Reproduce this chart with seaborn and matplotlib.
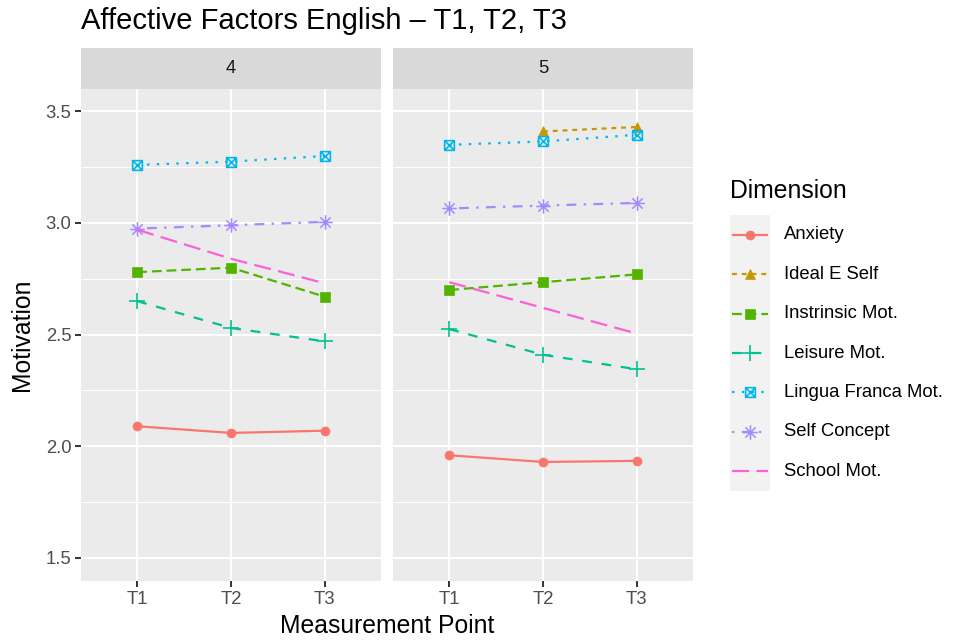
import numpy as np
import pandas as pd
import matplotlib
matplotlib.use("Agg")
import matplotlib.pyplot as plt
from matplotlib.path import Path
import seaborn as sns

# values
dimensions = ["Anxiety", "Ideal E Self", "Instrinsic Mot.", "Leisure Mot.",
              "Lingua Franca Mot.", "Self Concept", "School Mot."]
time_points = ["T1", "T2", "T3"]
grades = ["4", "5"]

grade4 = {
    "Anxiety":            [2.09, 2.06, 2.07],
    "Instrinsic Mot.":    [2.78, 2.80, 2.67],
    "Leisure Mot.":       [2.65, 2.53, 2.47],
    "Lingua Franca Mot.": [3.26, 3.275, 3.30],
    "Self Concept":       [2.975, 2.99, 3.005],
    "School Mot.":        [2.97, 2.84, 2.73],
}
grade5 = {
    "Anxiety":            [1.96, 1.93, 1.935],
    "Ideal E Self":       [np.nan, 3.41, 3.43],
    "Instrinsic Mot.":    [2.70, 2.735, 2.77],
    "Leisure Mot.":       [2.525, 2.41, 2.345],
    "Lingua Franca Mot.": [3.35, 3.365, 3.395],
    "Self Concept":       [3.065, 3.078, 3.09],
    "School Mot.":        [2.735, 2.62, 2.505],
}

rows = []
for g, block in zip(grades, [grade4, grade5]):
    for dim, vals in block.items():
        for t, v in zip(time_points, vals):
            if not np.isnan(v):
                rows.append({"grade": g, "time": t, "dim": dim, "value": v})
df = pd.DataFrame(rows)
df["tpos"] = df["time"].map({t: i for i, t in enumerate(time_points)})

colors = ["#F8766D", "#C49A00", "#53B400", "#00C094", "#00B6EB", "#A58AFF", "#FB61D7"]
palette = dict(zip(dimensions, colors))
dash_list = ["", (2.2, 2.2), (4.4, 2.2), (4.4, 4.4), (1.1, 3.3), (1.1, 3.3, 4.4, 3.3), (7.7, 3.3)]
dash_map = dict(zip(dimensions, dash_list))

# ggplot-like point shapes as paths
plus_path = Path([(-1, 0), (1, 0), (0, -1), (0, 1)],
                 [Path.MOVETO, Path.LINETO, Path.MOVETO, Path.LINETO])
d = 0.707
star_path = Path([(-1, 0), (1, 0), (0, -1), (0, 1), (-d, -d), (d, d), (-d, d), (d, -d)],
                 [Path.MOVETO, Path.LINETO] * 4)
sqx_path = Path([(-1, -1), (1, -1), (1, 1), (-1, 1), (-1, -1),
                 (-1, -1), (1, 1), (-1, 1), (1, -1)],
                [Path.MOVETO, Path.LINETO, Path.LINETO, Path.LINETO, Path.LINETO,
                 Path.MOVETO, Path.LINETO, Path.MOVETO, Path.LINETO])
marker_map = {"Anxiety": "o", "Ideal E Self": "^", "Instrinsic Mot.": "s",
              "Leisure Mot.": plus_path, "Lingua Franca Mot.": sqx_path,
              "Self Concept": star_path}
marker_size = {"Anxiety": 6.5, "Ideal E Self": 7.0, "Instrinsic Mot.": 6.5,
               "Leisure Mot.": 11.0, "Lingua Franca Mot.": 7.0, "Self Concept": 10.5}
marker_ew = {"Anxiety": 0.5, "Ideal E Self": 0.5, "Instrinsic Mot.": 0.5,
             "Leisure Mot.": 1.2, "Lingua Franca Mot.": 1.2, "Self Concept": 1.1}

sns.set_theme(style="darkgrid")
plt.rcParams["font.family"] = ["Liberation Sans", "DejaVu Sans"]

fig = plt.figure(figsize=(9.65, 6.41), dpi=100)
W, H = 965, 641


def box(x0, y0, x1, y1):
    return [x0 / W, 1 - y1 / H, (x1 - x0) / W, (y1 - y0) / H]


panel_x = [(81, 381), (393, 693)]
lw = 1.6
marked = [d_ for d_ in dimensions if d_ in marker_map]

for i, g in enumerate(grades):
    x0, x1 = panel_x[i]
    ax = fig.add_axes(box(x0, 89, x1, 581))
    sub = df[df["grade"] == g]
    sub_m = sub[sub["dim"].isin(marked)]
    sub_s = sub[sub["dim"] == "School Mot."]
    sns.lineplot(data=sub_m, x="tpos", y="value", hue="dim", style="dim",
                 hue_order=[d_ for d_ in marked if d_ in set(sub_m["dim"])],
                 palette=palette, dashes=dash_map, markers=marker_map,
                 linewidth=lw, markersize=6, legend=False, ax=ax)
    sns.lineplot(data=sub_s, x="tpos", y="value", color=palette["School Mot."],
                 linewidth=lw, dashes=False, legend=False, ax=ax)
    ax.lines[-1].set_dashes(dash_map["School Mot."])

    for ln in ax.lines:
        c = ln.get_color()
        ln.set_markeredgecolor(c)
        ln.set_solid_capstyle("butt")
        ln.set_dash_capstyle("butt")
        for dim, col in palette.items():
            if matplotlib.colors.same_color(c, col) and dim in marker_map:
                ln.set_markersize(marker_size[dim])
                ln.set_markeredgewidth(marker_ew[dim])
                if dim == "Lingua Franca Mot.":
                    ln.set_markerfacecolor("none")

    ax.set_facecolor("#EBEBEB")
    ax.set_xlim(-0.6, 2.6)
    ax.set_ylim(1.397, 3.6)
    ax.set_xticks(range(3))
    ax.set_xticklabels(time_points)
    ax.set_yticks([1.5, 2.0, 2.5, 3.0, 3.5])
    ax.set_yticks([1.75, 2.25, 2.75, 3.25], minor=True)
    ax.grid(True, which="major", color="white", linewidth=1.5)
    ax.grid(True, which="minor", axis="y", color="white", linewidth=0.75)
    ax.grid(False, which="minor", axis="x")
    ax.set_axisbelow(True)
    for s in ax.spines.values():
        s.set_visible(False)
    ax.tick_params(axis="both", which="major", length=4, width=1.4, color="#333333",
                   labelsize=13.3, labelcolor="#4D4D4D", pad=3, bottom=True, left=(i == 0))
    ax.tick_params(axis="both", which="minor", length=0)
    ax.set_xlabel("")
    ax.set_ylabel("")
    if i == 1:
        ax.set_yticklabels([])

    # facet strip
    sax = fig.add_axes(box(x0, 48, x1, 89))
    sax.set_facecolor("#D9D9D9")
    sax.set_xticks([])
    sax.set_yticks([])
    for s in sax.spines.values():
        s.set_visible(False)
    sax.text(0.5, 0.5, g, ha="center", va="center", fontsize=13.3, color="#1A1A1A",
             transform=sax.transAxes)

fig.text(81 / W, 1 - 21 / H, "Affective Factors English \u2013 T1, T2, T3",
         fontsize=21, ha="left", va="center", color="black")
fig.text(387 / W, 1 - 626 / H, "Measurement Point", fontsize=17.8, ha="center",
         va="center", color="black")
fig.text(22 / W, 1 - 335 / H, "Motivation", fontsize=17.8, ha="center",
         va="center", rotation=90, color="black")

# legend
lax = fig.add_axes(box(730, 215, 770, 491))
lax.set_facecolor("#F2F2F2")
lax.set_xlim(0, 1)
lax.set_ylim(len(dimensions), 0)
lax.set_xticks([])
lax.set_yticks([])
lax.grid(False)
for s in lax.spines.values():
    s.set_visible(False)
for k, dim in enumerate(dimensions):
    yk = k + 0.5
    lax.plot([0.05, 0.95], [yk, yk], color=palette[dim], linewidth=lw,
             dashes=dash_map[dim] if dash_map[dim] else (None, None),
             solid_capstyle="butt", dash_capstyle="butt")
    if dim in marker_map:
        lax.plot([0.5], [yk], linestyle="none", marker=marker_map[dim],
                 markersize=marker_size[dim], markeredgewidth=marker_ew[dim],
                 color=palette[dim], markeredgecolor=palette[dim],
                 markerfacecolor="none" if dim == "Lingua Franca Mot." else palette[dim])
    fig.text(784 / W, 1 - (215 + (yk) * (276 / 7)) / H, dim, fontsize=13.3,
             ha="left", va="center", color="black")
fig.text(730 / W, 1 - 191 / H, "Dimension", fontsize=17.8, ha="left", va="center",
         color="black")

fig.savefig("out.png", dpi=100)
